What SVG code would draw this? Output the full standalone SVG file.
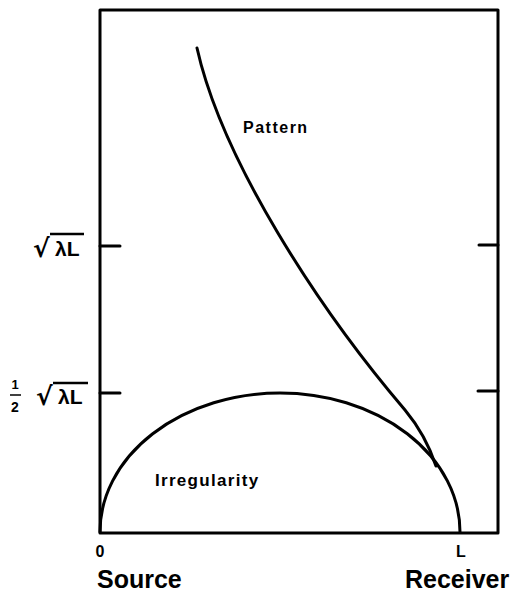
<svg xmlns="http://www.w3.org/2000/svg" width="520" height="601" viewBox="0 0 520 601">
<style>
.ln{fill:none;stroke:#000;stroke-width:3;stroke-linecap:round;stroke-linejoin:round}
.t{font-family:"Liberation Sans",Arial,sans-serif;font-weight:bold;fill:#000}
.rad{font-family:"DejaVu Sans",sans-serif;font-weight:bold;fill:#000}
</style>
<rect width="520" height="601" fill="#fff"/>
<g id="frame">
<rect x="100" y="10" width="398" height="523" class="ln"/>
<line x1="100" y1="246" x2="120" y2="246" class="ln"/>
<line x1="100" y1="393" x2="120" y2="393" class="ln"/>
<line x1="479" y1="245" x2="498" y2="245" class="ln"/>
<line x1="478" y1="391" x2="498" y2="391" class="ln"/>
</g>
<g id="connectors">
<path id="irregularity-curve" class="ln" d="M100,532 A180,139 0 0 1 460,532"/>
<path id="pattern-curve" class="ln" d="M197,48 C222,160 318,308 405,410 C420,428 430,448 436,466"/>
</g>
<g id="label-pattern"><text class="t" x="243" y="133" font-size="16" letter-spacing="1.5">Pattern</text></g>
<g id="label-irregularity"><text class="t" x="155" y="486" font-size="17" letter-spacing="1.3">Irregularity</text></g>
<g id="axis-labels">
<text class="rad" x="33" y="257" font-size="25">√</text>
<line x1="50" y1="234" x2="84" y2="234" stroke="#000" stroke-width="2.5"/>
<text class="t" x="55" y="256" font-size="21">λL</text>
<text class="t" x="15" y="389" font-size="13" text-anchor="middle">1</text>
<line x1="10" y1="395" x2="21" y2="395" stroke="#000" stroke-width="1.5"/>
<text class="t" x="15" y="412" font-size="14" text-anchor="middle">2</text>
<text class="rad" x="36" y="405" font-size="25">√</text>
<line x1="53" y1="383" x2="88" y2="383" stroke="#000" stroke-width="2.5"/>
<text class="t" x="58" y="404" font-size="21">λL</text>
<text class="t" x="100" y="557" font-size="16" text-anchor="middle">0</text>
<text class="t" x="461" y="557" font-size="16" text-anchor="middle">L</text>
<text class="t" x="97" y="588" font-size="25">Source</text>
<text class="t" x="405" y="588" font-size="25">Receiver</text>
</g>
</svg>
